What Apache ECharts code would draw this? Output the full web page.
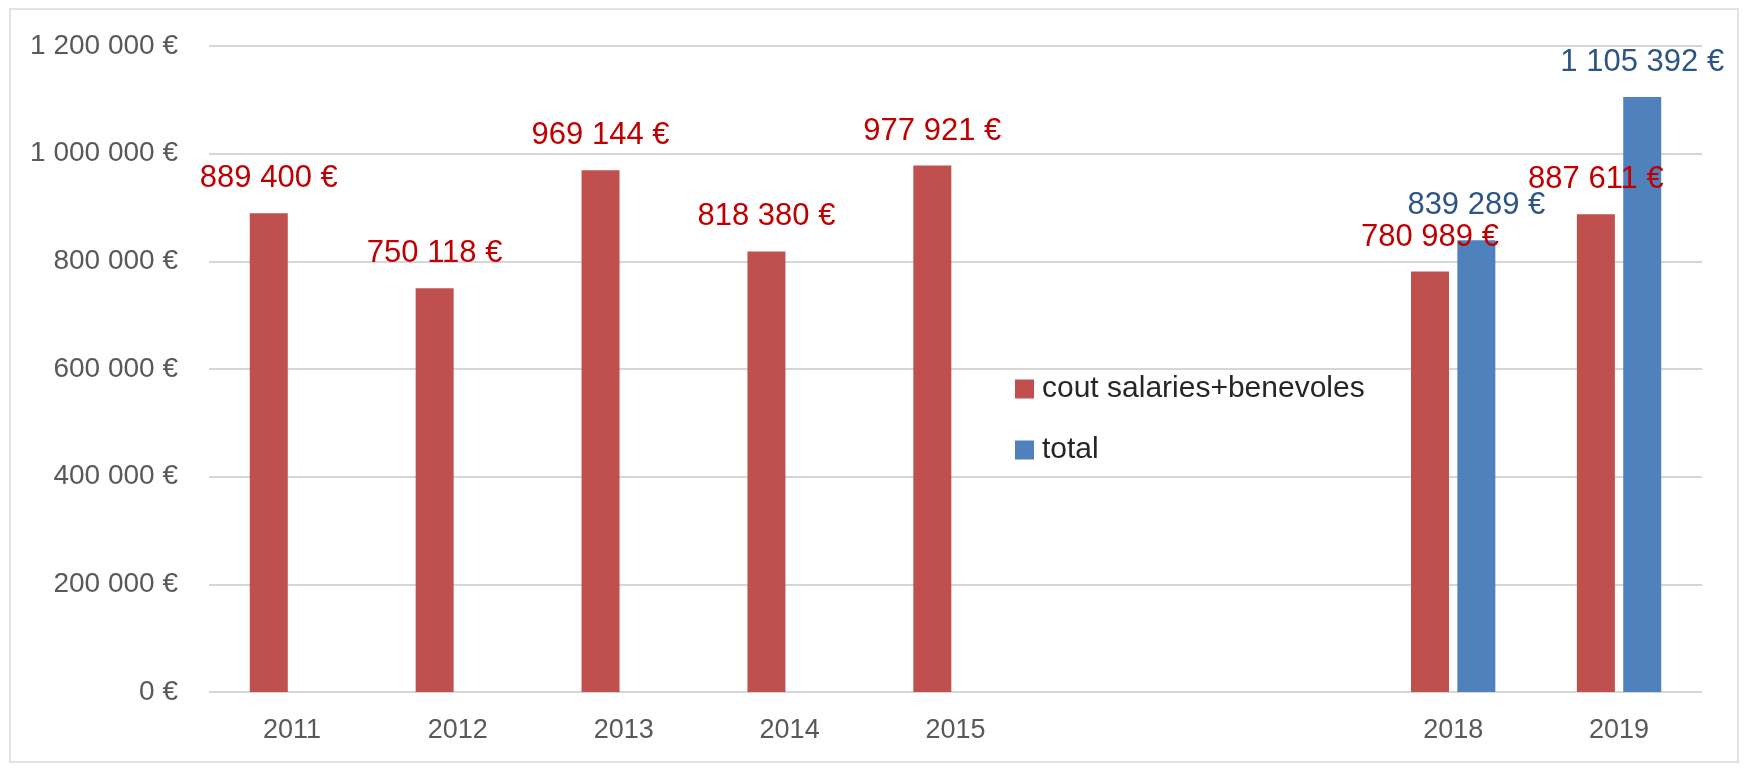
<!DOCTYPE html>
<html>
<head>
<meta charset="utf-8">
<script src="https://cdn.jsdelivr.net/npm/echarts@6/dist/echarts.min.js"></script>
<style>
html,body{margin:0;padding:0;background:#fff;}
#c{width:1744px;height:768px;}
</style>
</head>
<body>
<div id="c"></div>
<script>
// Data
const categories = ['2011', '2012', '2013', '2014', '2015', '', '', '2018', '2019'];
const coutSalaries = [889400, 750118, 969144, 818380, 977921, null, null, 780989, 887611];
const total = [null, null, null, null, null, null, null, 839289, 1105392];
const seriesNames = ['cout salaries+benevoles', 'total'];
const yTicks = { min: 0, max: 1200000, interval: 200000 };

function fmtEuro(v) {
  const s = Math.round(v).toString().replace(/\B(?=(\d{3})+(?!\d))/g, ' ');
  return s + ' €';
}

const FONT = "'Liberation Sans', Arial, sans-serif";
const chart = echarts.init(document.getElementById('c'), null, { renderer: 'canvas' });
chart.setOption({
  animation: false,
  backgroundColor: '#ffffff',
  graphic: [{
    type: 'rect',
    shape: { x: 10, y: 9, width: 1728, height: 753 },
    style: { fill: 'none', stroke: '#d9d9d9', lineWidth: 1.5 },
    silent: true
  }],
  grid: { left: 209, right: 42, top: 46, bottom: 76, containLabel: false },
  legend: {
    orient: 'vertical',
    left: 1010,
    top: 369,
    itemWidth: 19,
    itemHeight: 19,
    itemGap: 31,
    icon: 'rect',
    textStyle: { fontFamily: FONT, fontSize: 30, color: '#262626', padding: [0, 0, 0, 3] },
    data: seriesNames
  },
  xAxis: {
    type: 'category',
    data: categories,
    axisLine: { show: false },
    axisTick: { show: false },
    axisLabel: { fontFamily: FONT, fontSize: 27, color: '#595959', margin: 25, interval: 0 }
  },
  yAxis: {
    type: 'value',
    min: yTicks.min,
    max: yTicks.max,
    interval: yTicks.interval,
    axisLine: { show: false },
    axisTick: { show: false },
    axisLabel: { fontFamily: FONT, fontSize: 28, color: '#595959', margin: 31, formatter: fmtEuro },
    splitLine: { lineStyle: { color: '#d6d6d6', width: 2 } }
  },
  series: [
    {
      name: seriesNames[0],
      type: 'bar',
      data: coutSalaries,
      barWidth: 38,
      barGap: '22%',
      itemStyle: { color: '#C0504D' },
      label: {
        show: true, position: 'top', distance: 19,
        fontFamily: FONT, fontSize: 31, color: '#C00000',
        formatter: p => fmtEuro(p.value)
      }
    },
    {
      name: seriesNames[1],
      type: 'bar',
      data: total,
      barWidth: 38,
      barGap: '22%',
      itemStyle: { color: '#4F81BD' },
      label: {
        show: true, position: 'top', distance: 19,
        fontFamily: FONT, fontSize: 31, color: '#2C5586',
        formatter: p => fmtEuro(p.value)
      }
    }
  ]
});
</script>
</body>
</html>
